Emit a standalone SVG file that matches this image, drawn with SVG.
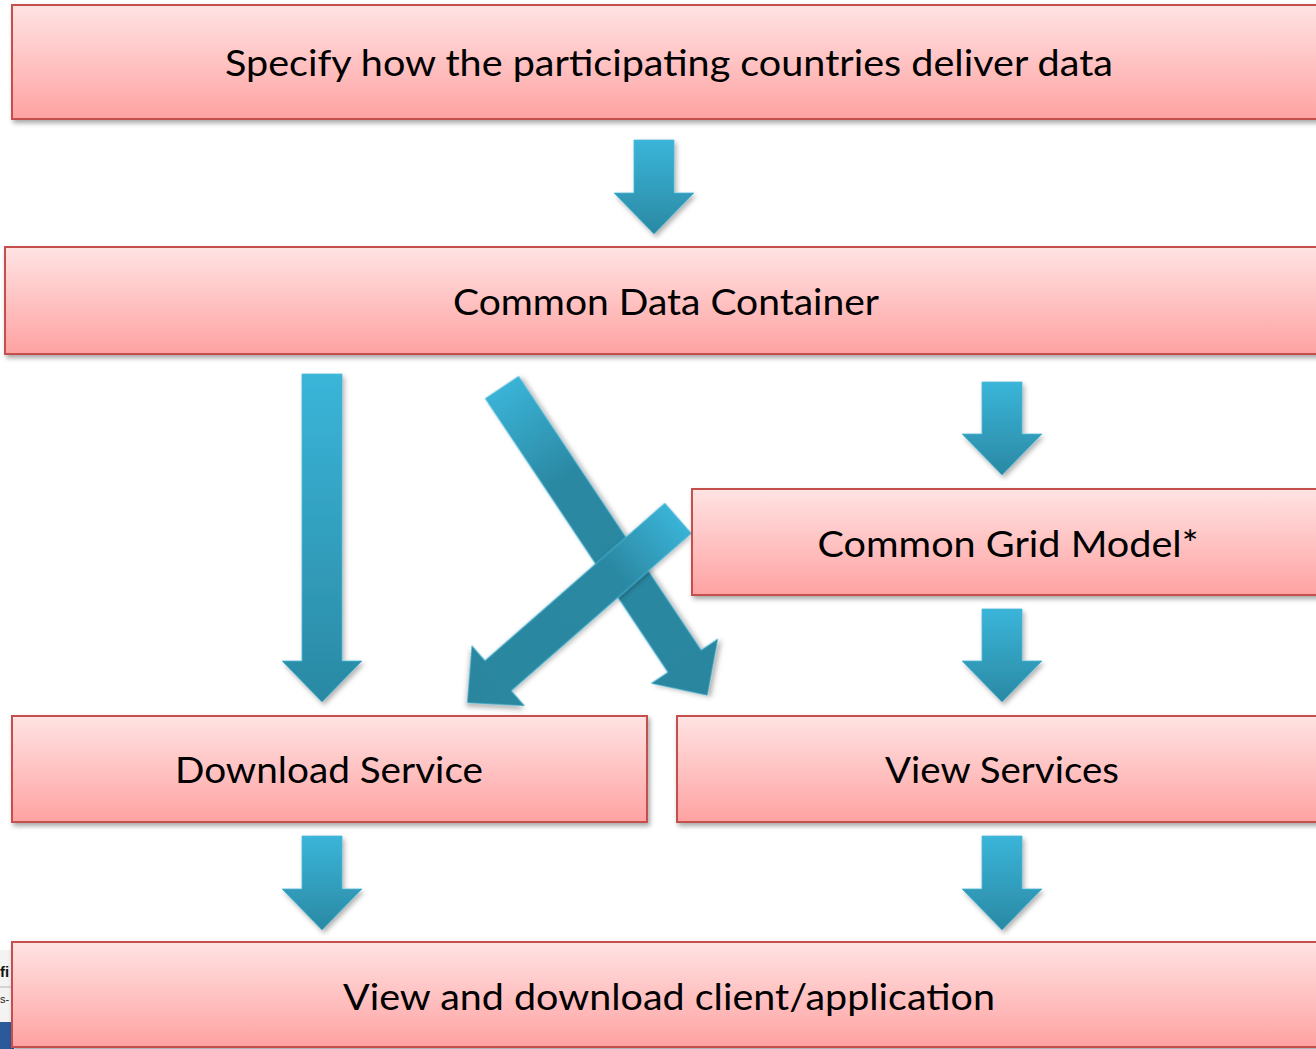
<svg xmlns="http://www.w3.org/2000/svg" width="1316" height="1049" viewBox="0 0 1316 1049">
  <defs>
    <linearGradient id="boxFill" x1="0" y1="0" x2="0" y2="1">
      <stop offset="0" stop-color="#ffe3e3"/>
      <stop offset="1" stop-color="#ffa2a2"/>
    </linearGradient>
    <linearGradient id="arrowFill" x1="0" y1="0" x2="0" y2="1">
      <stop offset="0" stop-color="#3ab5d9"/>
      <stop offset="1" stop-color="#2a89a3"/>
    </linearGradient>
    <linearGradient id="diagFill" x1="0" y1="0" x2="0" y2="1">
      <stop offset="0" stop-color="#3ab3d7"/>
      <stop offset="0.3" stop-color="#2b88a2"/>
      <stop offset="1" stop-color="#2a869f"/>
    </linearGradient>
    <filter id="shadow" x="-10%" y="-10%" width="130%" height="140%">
      <feDropShadow dx="2" dy="3" stdDeviation="2.5" flood-color="#000" flood-opacity="0.35"/>
    </filter>
    <filter id="ashadow" x="-30%" y="-10%" width="160%" height="130%">
      <feDropShadow dx="2" dy="3" stdDeviation="2.5" flood-color="#000" flood-opacity="0.3"/>
    </filter>
  </defs>
  <style>
    .box { fill: url(#boxFill); stroke: #c4504e; stroke-width: 2; filter: url(#shadow); }
    .lbl { font-family: Lato, "Open Sans", "Liberation Sans", sans-serif; font-size: 37px; fill: #000; text-anchor: middle; }
    .arr { fill: url(#arrowFill); stroke: #4cb8d6; stroke-width: 0.8; filter: url(#ashadow); }
    .darr { fill: url(#diagFill); stroke: #4cb8d6; stroke-width: 0.8; filter: url(#ashadow); }
  </style>
  <rect x="0" y="0" width="1316" height="1049" fill="#ffffff"/>

  <!-- screenshot fragment at bottom-left -->
  <g id="fragment">
    <rect x="0" y="950" width="14" height="73" fill="#f3f3f3"/>
    <text x="0" y="977" font-family="'Liberation Sans', sans-serif" font-size="15" font-weight="bold" fill="#111">fi</text>
    <line x1="0" y1="987" x2="14" y2="987" stroke="#b5b5b5" stroke-width="1"/>
    <text x="0" y="1003" font-family="'Liberation Sans', sans-serif" font-size="11" fill="#222">s-</text>
    <rect x="0" y="1022" width="14" height="27" fill="#2a5a9a"/>
  </g>

  <g id="connectors">
    <path class="arr" transform="translate(654,140)" d="M-20 0 H20 V53 H40 L0 94 L-40 53 H-20 Z"/>
    <path class="arr" transform="translate(322,374)" d="M-20 0 H20 V287 H40 L0 328 L-40 287 H-20 Z"/>
    <path class="arr" transform="translate(1002,382)" d="M-20 0 H20 V52 H40 L0 93 L-40 52 H-20 Z"/>
    <path class="arr" transform="translate(1002,609)" d="M-20 0 H20 V52 H40 L0 93 L-40 52 H-20 Z"/>
    <path class="arr" transform="translate(322,836)" d="M-20 0 H20 V53 H40 L0 94 L-40 53 H-20 Z"/>
    <path class="arr" transform="translate(1002,836)" d="M-20 0 H20 V53 H40 L0 94 L-40 53 H-20 Z"/>
    <path class="darr" transform="translate(502,387.5) rotate(-33.7)" d="M-20 0 H20 V329 H40 L0 370 L-40 329 H-20 Z"/>
    <path class="darr" transform="translate(678,518.3) rotate(48.8)" d="M-20 0 H20 V239 H40 L0 280 L-40 239 H-20 Z"/>
  </g>

  <g id="node-specify">
    <rect class="box" x="12" y="5" width="1314" height="114"/>
    <text class="lbl" x="669" y="76" textLength="888" lengthAdjust="spacingAndGlyphs">Specify how the participating countries deliver data</text>
  </g>
  <g id="node-container">
    <rect class="box" x="5" y="247" width="1322" height="107"/>
    <text class="lbl" x="666" y="315" textLength="426" lengthAdjust="spacingAndGlyphs">Common Data Container</text>
  </g>
  <g id="node-grid">
    <rect class="box" x="692" y="489" width="634" height="106"/>
    <text class="lbl" x="1008" y="557" textLength="381" lengthAdjust="spacingAndGlyphs">Common Grid Model*</text>
  </g>
  <g id="node-download">
    <rect class="box" x="12" y="716" width="635" height="106"/>
    <text class="lbl" x="329" y="783" textLength="308" lengthAdjust="spacingAndGlyphs">Download Service</text>
  </g>
  <g id="node-view">
    <rect class="box" x="677" y="716" width="650" height="106"/>
    <text class="lbl" x="1002" y="783" textLength="234" lengthAdjust="spacingAndGlyphs">View Services</text>
  </g>
  <g id="node-client">
    <rect class="box" x="12" y="942" width="1314" height="105"/>
    <text class="lbl" x="669" y="1010" textLength="652" lengthAdjust="spacingAndGlyphs">View and download client/application</text>
  </g>
</svg>
